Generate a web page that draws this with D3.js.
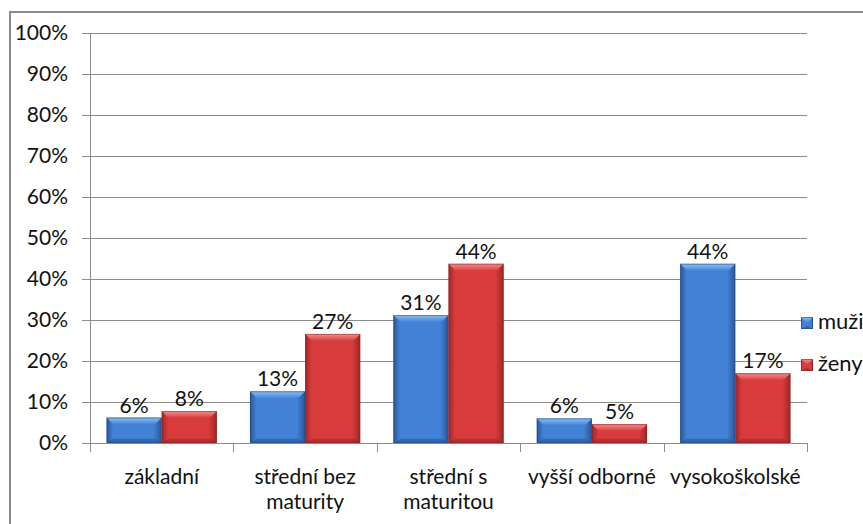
<!DOCTYPE html>
<html>
<head>
<meta charset="utf-8">
<script src="https://cdn.jsdelivr.net/npm/d3@7"></script>
<style>
  body { margin: 0; background: #fff; }
  text { font-family: Lato, "Open Sans", sans-serif; fill: #111; }
</style>
</head>
<body>
<svg id="chart" width="863" height="524"></svg>
<script>
var categories = [["základní"], ["střední bez", "maturity"], ["střední s", "maturitou"], ["vyšší odborné"], ["vysokoškolské"]];
var muzi = [6.2, 12.6, 31.2, 6.0, 43.7];
var zeny = [7.8, 26.6, 43.7, 4.6, 17.0];
var seriesNames = ["muži", "ženy"];
var yTicks = [0, 10, 20, 30, 40, 50, 60, 70, 80, 90, 100];

var svg = d3.select('#chart');
var plot = {left: 90, right: 807, top: 33, bottom: 443};
var fs = 21;

var x = d3.scaleBand().domain(d3.range(categories.length)).range([plot.left, plot.right]);
var xs = d3.scaleBand().domain([0, 1]).range([0, x.bandwidth()]).paddingOuter(0.3).paddingInner(0);
var y = d3.scaleLinear().domain([0, 100]).range([plot.bottom, plot.top]);

// colours: base, light, dark
var pal = [
  {base: '#4282d6', light: '#8fc0f4', dark: '#2a5598', edge: '#1f4580'},
  {base: '#d83c3c', light: '#f59090', dark: '#9e2626', edge: '#862020'}
];

var defs = svg.append('defs');
pal.forEach(function(p, i) {
  var g = defs.append('linearGradient').attr('id', 'g' + i).attr('x1', 0).attr('x2', 1).attr('y1', 0).attr('y2', 0);
  g.append('stop').attr('offset', '0%').attr('stop-color', p.dark);
  g.append('stop').attr('offset', '12%').attr('stop-color', p.base);
  g.append('stop').attr('offset', '85%').attr('stop-color', p.base);
  g.append('stop').attr('offset', '100%').attr('stop-color', p.dark);
  var t = defs.append('linearGradient').attr('id', 't' + i).attr('x1', 0).attr('x2', 0).attr('y1', 0).attr('y2', 1);
  t.append('stop').attr('offset', '0%').attr('stop-color', p.light);
  t.append('stop').attr('offset', '100%').attr('stop-color', p.base);
});

// outer border
svg.append('path').attr('d', 'M10,524 L10,12 L863,12').attr('fill', 'none').attr('stroke', '#8a8a8a').attr('stroke-width', 2);

// gridlines + y ticks
svg.append('g').selectAll('line').data(yTicks).enter().append('line')
  .attr('x1', plot.left - 8).attr('x2', plot.right)
  .attr('y1', function(d) { return Math.round(y(d)) + 0.5; })
  .attr('y2', function(d) { return Math.round(y(d)) + 0.5; })
  .attr('stroke', '#8c8c8c').attr('stroke-width', 1);

svg.append('g').selectAll('text').data(yTicks).enter().append('text')
  .attr('x', 68).attr('y', function(d) { return y(d) + 7; })
  .attr('text-anchor', 'end').attr('font-size', fs)
  .text(function(d) { return d + '%'; });

// y axis + category ticks
svg.append('line').attr('x1', plot.left + 0.5).attr('x2', plot.left + 0.5)
  .attr('y1', plot.top).attr('y2', plot.bottom + 9).attr('stroke', '#8c8c8c');
svg.append('g').selectAll('line').data(d3.range(1, categories.length + 1)).enter().append('line')
  .attr('x1', function(d) { return Math.round(plot.left + d * x.step()) + 0.5; })
  .attr('x2', function(d) { return Math.round(plot.left + d * x.step()) + 0.5; })
  .attr('y1', plot.bottom).attr('y2', plot.bottom + 9).attr('stroke', '#8c8c8c');

function bevelBar(g, bx, by, w, h, i) {
  var p = pal[i];
  var b = Math.min(7, h / 2);
  g.append('rect').attr('x', bx).attr('y', by).attr('width', w).attr('height', h).attr('fill', 'url(#g' + i + ')');
  g.append('path').attr('d', 'M' + bx + ',' + by + 'L' + (bx + w) + ',' + by + 'L' + (bx + w - b) + ',' + (by + b) + 'L' + (bx + b) + ',' + (by + b) + 'Z')
    .attr('fill', 'url(#t' + i + ')');
  g.append('path').attr('d', 'M' + bx + ',' + (by + h) + 'L' + (bx + w) + ',' + (by + h) + 'L' + (bx + w - b) + ',' + (by + h - b * 0.6) + 'L' + (bx + b) + ',' + (by + h - b * 0.6) + 'Z')
    .attr('fill', p.dark).attr('opacity', 0.6);
  g.append('rect').attr('x', bx + 0.5).attr('y', by + 0.5).attr('width', w - 1).attr('height', Math.max(0, h - 1))
    .attr('fill', 'none').attr('stroke', p.edge).attr('stroke-opacity', 0.5);
}

var series = [muzi, zeny];
var bars = svg.append('g');
series.forEach(function(vals, si) {
  vals.forEach(function(v, ci) {
    var bx = x(ci) + xs(si);
    bevelBar(bars, bx, y(v), xs.bandwidth(), plot.bottom - y(v), si);
  });
});

// data labels
var labels = svg.append('g');
series.forEach(function(vals, si) {
  labels.selectAll('text.s' + si).data(vals).enter().append('text')
    .attr('class', 's' + si)
    .attr('x', function(d, ci) { return x(ci) + xs(si) + xs.bandwidth() / 2; })
    .attr('y', function(d) { return y(d) - 5; })
    .attr('text-anchor', 'middle').attr('font-size', fs)
    .text(function(d) { return Math.round(d) + '%'; });
});

// category labels
var cat = svg.append('g').selectAll('text').data(categories).enter().append('text')
  .attr('x', function(d, i) { return x(i) + x.bandwidth() / 2; })
  .attr('y', 484).attr('text-anchor', 'middle').attr('font-size', fs);
cat.selectAll('tspan').data(function(d) { return d; }).enter().append('tspan')
  .attr('x', function() { return d3.select(this.parentNode).attr('x'); })
  .attr('dy', function(d, i) { return i ? 25 : 0; })
  .text(function(d) { return d; });

// legend
var leg = svg.append('g');
seriesNames.forEach(function(name, i) {
  var ly = 317 + i * 42;
  bevelBar(leg, 801, ly, 12, 12, i);
  leg.append('text').attr('x', 818).attr('y', ly + 12).attr('font-size', 22).text(name);
});
</script>
</body>
</html>
